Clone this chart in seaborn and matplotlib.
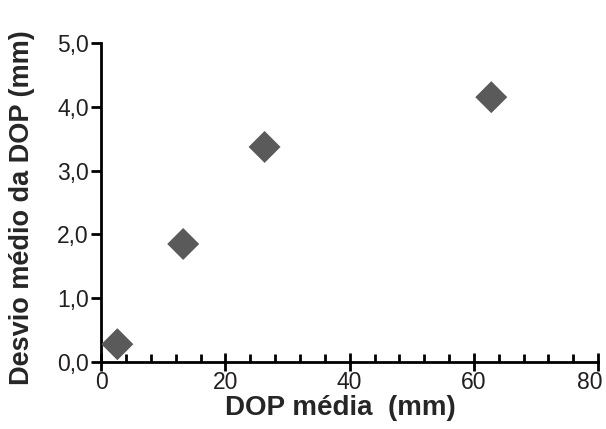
import numpy as np
import pandas as pd
import matplotlib
matplotlib.use("Agg")
import matplotlib.pyplot as plt
import matplotlib.ticker as mticker
import matplotlib.transforms as mtransforms
import seaborn as sns

sns.set_style("ticks")
plt.rcParams["font.family"] = ["Liberation Sans", "DejaVu Sans"]
plt.rcParams["text.color"] = "#231f20"
plt.rcParams["xtick.labelcolor"] = "#231f20"
plt.rcParams["ytick.labelcolor"] = "#231f20"

# data
dop_media = [2.6, 13.2, 26.3, 62.8]
desvio_medio = [0.28, 1.85, 3.37, 4.15]

df = pd.DataFrame({"x": dop_media, "y": desvio_medio})

fig, ax = plt.subplots(figsize=(6.06, 4.29), dpi=100)
sns.scatterplot(data=df, x="x", y="y", marker="D", s=265, color="#5a5a5a",
                edgecolor="none", ax=ax, clip_on=False, zorder=3)

ax.set_xlim(0, 80)
ax.set_ylim(0, 5)
ax.xaxis.set_major_locator(mticker.FixedLocator([0, 20, 40, 60, 80]))
ax.xaxis.set_minor_locator(mticker.MultipleLocator(4))
ax.yaxis.set_major_locator(mticker.MultipleLocator(1))
ax.yaxis.set_major_formatter(mticker.FuncFormatter(lambda v, _: f"{v:.1f}".replace(".", ",")))

for s in ("left", "bottom"):
    ax.spines[s].set_linewidth(2)
    ax.spines[s].set_color("black")
ax.spines["top"].set_visible(False)
ax.spines["right"].set_visible(False)

ax.tick_params(axis="x", which="major", direction="inout", length=13, width=2,
               labelsize=16.5, pad=0, color="black")
ax.tick_params(axis="x", which="minor", direction="in", length=6, width=2, color="black")
ax.tick_params(axis="y", which="major", direction="out", length=7, width=2,
               labelsize=16.5, pad=2, color="black")

ax.set_xlabel("DOP média  (mm)", fontsize=20, fontweight="bold")
ax.set_ylabel("Desvio médio da DOP (mm)", fontsize=19.5, fontweight="bold")
ax.xaxis.set_label_coords(0.481, -0.103)
ax.yaxis.set_label_coords(-0.133, 0.483)

fig.subplots_adjust(left=0.167, right=0.987, bottom=0.156, top=0.9)

# the "80" label sits a little left of its tick in the reference
fig.canvas.draw()
for lab in ax.get_xticklabels():
    if lab.get_text() == "80":
        lab.set_transform(lab.get_transform()
                          + mtransforms.ScaledTranslation(-0.08, 0, fig.dpi_scale_trans))

fig.savefig("out.png", dpi=100)
